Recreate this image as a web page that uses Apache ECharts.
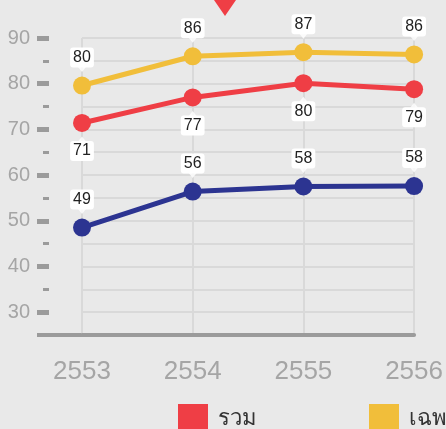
<!DOCTYPE html>
<html>
<head>
  <meta charset="UTF-8">
  <title>chart</title>
  <style>
    html, body {
      margin: 0;
      padding: 0;
      background: #e9e9e9;
    }

    #main {
      width: 446px;
      height: 429px;
    }
  </style>
  <script src="https://cdn.jsdelivr.net/npm/echarts@6/dist/echarts.min.js"></script>
</head>

<body>
<div id="main"></div>

<script type="text/javascript">
  const years = ['2553', '2554', '2555', '2556'];
  const seriesNames = ['รวม', 'เฉพาะในเขตเทศบาล', 'นอกเขตเทศบาล'];
  const totalVals = [71.4, 77.0, 80.1, 78.8];     // red, labels below
  const urbanVals = [79.6, 86.0, 86.9, 86.4];     // yellow, labels above
  const ruralVals = [48.5, 56.4, 57.5, 57.6];     // blue, labels above
  const yTicks = ['25', '30', '35', '40', '45', '50', '55', '60', '65', '70', '75', '80', '85', '90'];
  const yMin = 25;
  const yMax = 90;

  const colors = ['#ef3e45', '#f1be3a', '#2c3491'];
  const font = '"Liberation Sans", Arial, "DejaVu Sans", sans-serif';

  const myChart = echarts.init(document.getElementById('main'));

  // only the tens get a long tick and a label
  function isMajor(idx, val) {
    const v = Number(val);
    return v >= 30 && v % 10 === 0;
  }

  // white value box on each point
  function valueLabel(pos) {
    return {
      show: true,
      position: pos,
      distance: 9,
      formatter: function (p) { return Math.round(p.value); },
      backgroundColor: '#fff',
      borderRadius: 3,
      padding: [2, 3, 2, 3],
      color: '#222',
      fontSize: 16,
      lineHeight: 16,
      fontFamily: font
    };
  }

  function lineSeries(name, data, color, labelPos) {
    return {
      name: name,
      type: 'line',
      data: data,
      symbol: 'circle',
      symbolSize: 18,
      color: color,
      lineStyle: { width: 5, color: color },
      itemStyle: { color: color },
      label: valueLabel(labelPos),
      z: 3
    };
  }

  // small white pointer under / over the value box
  function pointerSeries(data, up) {
    return {
      type: 'scatter',
      data: data,
      symbol: 'triangle',
      symbolSize: [8, 5],
      symbolRotate: up ? 0 : 180,
      symbolOffset: [0, up ? 16 : -16],
      itemStyle: { color: '#fff' },
      silent: true,
      z: 4
    };
  }

  const option = {
    backgroundColor: '#e9e9e9',
    animation: false,
    textStyle: { fontFamily: font },
    grid: {
      left: 82,
      right: 31,
      top: 38,
      bottom: 94
    },
    legend: {
      data: seriesNames,
      left: 173,
      top: 399,
      width: 1200,
      icon: 'rect',
      itemWidth: 30,
      itemHeight: 30,
      itemGap: 112,
      textStyle: {
        fontSize: 22,
        color: '#333',
        padding: [0, 0, 0, 5],
        fontFamily: font
      }
    },
    xAxis: {
      type: 'category',
      data: years,
      boundaryGap: false,
      axisLine: { lineStyle: { color: '#9b9b9b', width: 4 } },
      axisTick: { show: false },
      axisLabel: { fontSize: 26, color: '#a5a5a5', margin: 24, fontFamily: font },
      splitLine: { show: true, lineStyle: { color: '#d9d9d9', width: 2 } }
    },
    yAxis: [{
      // value scale for the data, short ticks and grid lines every 5
      type: 'value',
      position: 'left',
      offset: 33,
      min: yMin,
      max: yMax,
      interval: 5,
      axisLine: { show: false },
      axisTick: { show: true, length: 6, lineStyle: { color: '#9b9b9b', width: 3 } },
      axisLabel: { show: false },
      splitLine: { show: true, lineStyle: { color: '#d9d9d9', width: 2 } }
    }, {
      // same steps as a category axis, so the tens can be picked out
      type: 'category',
      position: 'left',
      offset: 33,
      data: yTicks,
      boundaryGap: false,
      axisLine: { show: false },
      axisTick: { show: true, length: 12, interval: isMajor, lineStyle: { color: '#9b9b9b', width: 5 } },
      axisLabel: { interval: isMajor, fontSize: 20, color: '#a5a5a5', margin: 19, fontFamily: font },
      splitLine: { show: false }
    }],
    graphic: [{
      // baseline continues left to the tick column
      type: 'rect',
      shape: { x: 37, y: 333, width: 48, height: 4 },
      style: { fill: '#9b9b9b' }
    }, {
      type: 'polygon',
      shape: { points: [[214, 0], [236, 0], [225, 16]] },
      style: { fill: colors[0] }
    }],
    series: [
      lineSeries(seriesNames[0], totalVals, colors[0], 'bottom'),
      lineSeries(seriesNames[1], urbanVals, colors[1], 'top'),
      lineSeries(seriesNames[2], ruralVals, colors[2], 'top'),
      pointerSeries(totalVals, true),
      pointerSeries(urbanVals, false),
      pointerSeries(ruralVals, false)
    ]
  };

  myChart.setOption(option);
</script>
</body>
</html>
